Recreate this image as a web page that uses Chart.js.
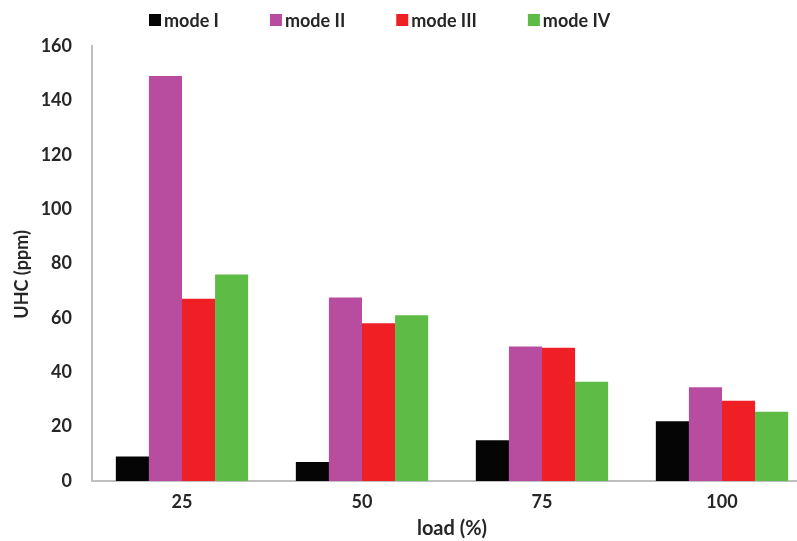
<!DOCTYPE html>
<html>
<head>
<meta charset="utf-8">
<script src="https://cdn.jsdelivr.net/npm/chart.js@4"></script>
<style>
  html, body { margin: 0; padding: 0; background: #fff; overflow: hidden; }
  #wrap { width: 812px; height: 541px; }
</style>
</head>
<body>
<div id="wrap"><canvas id="myChart" width="812" height="541"></canvas></div>
<script>
// load (%) categories
var loads = ['25', '50', '75', '100'];
var modeNames = ['mode I', 'mode II', 'mode III', 'mode IV'];
// UHC (ppm)
var modeI = [9, 7, 15, 22];
var modeII = [149, 67.5, 49.5, 34.5];
var modeIII = [67, 58, 49, 29.5];
var modeIV = [76, 61, 36.5, 25.5];
var yTicks = [0, 20, 40, 60, 80, 100, 120, 140, 160];

var colors = ['#050505', '#b84c9e', '#ee1f25', '#5ebb46'];
var textColor = '#262626';
var fontFam = 'Lato, "Open Sans", sans-serif';

var series = [modeI, modeII, modeIII, modeIV];
var ds = [];
for (var i in series) {
	ds.push({
		label: modeNames[i],
		data: series[i],
		backgroundColor: colors[i],
		borderWidth: 0,
		barPercentage: 1,
		categoryPercentage: 0.735
	});
}

// legend drawn by hand so the wide gaps between items match
var topLegend = {
	id: 'topLegend',
	afterDraw: function (chart) {
		var ctx = chart.ctx;
		ctx.save();
		ctx.font = 'bold 18px ' + fontFam;
		ctx.textBaseline = 'middle';
		ctx.textAlign = 'left';
		var x = 149, y = 20;
		chart.data.datasets.forEach(function (d) {
			ctx.fillStyle = d.backgroundColor;
			ctx.fillRect(x, y - 6, 12, 12);
			ctx.fillStyle = textColor;
			ctx.fillText(d.label, x + 15, y + 1);
			x += 15 + ctx.measureText(d.label).width + 51;
		});
		ctx.restore();
	}
};

var ctx = document.getElementById('myChart').getContext('2d');
new Chart(ctx, {
	type: 'bar',
	data: { labels: loads, datasets: ds },
	options: {
		responsive: false,
		animation: false,
		layout: { padding: { top: 46, right: 0, left: 0, bottom: 0 } },
		plugins: { legend: { display: false }, tooltip: { enabled: false } },
		scales: {
			x: {
				grid: { display: false },
				border: { display: true, color: '#bfbfbf', width: 2 },
				ticks: { color: textColor, font: { family: fontFam, size: 18, weight: 'bold' }, padding: 2 },
				title: { display: true, text: 'load (%)', color: textColor, font: { family: fontFam, size: 20, weight: 'bold' }, padding: { top: 4, bottom: 0 } },
				afterFit: function (s) { s.height = 60; }
			},
			y: {
				min: 0,
				max: 160,
				afterBuildTicks: function (s) { s.ticks = yTicks.map(function (v) { return { value: v }; }); },
				grid: { display: false },
				border: { display: true, color: '#bfbfbf', width: 2 },
				ticks: { color: textColor, font: { family: fontFam, size: 18, weight: 'bold' }, padding: 12 },
				// trailing spaces nudge the rotated title a little lower, as in the original
				title: { display: true, text: 'UHC (ppm)     ', color: textColor, font: { family: fontFam, size: 18, weight: 'bold' }, padding: { top: 11, bottom: 0 } },
				afterFit: function (s) { s.width = 92; }
			}
		}
	},
	plugins: [topLegend]
});
</script>
</body>
</html>
